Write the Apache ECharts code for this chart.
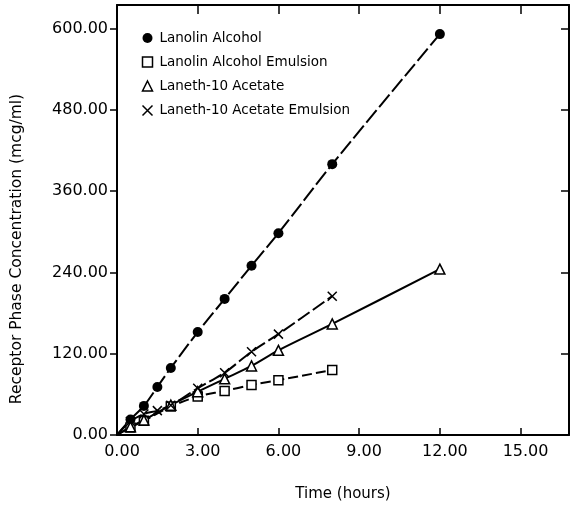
<!DOCTYPE html>
<html>
<head>
<meta charset="utf-8">
<script src="https://cdn.jsdelivr.net/npm/echarts@6/dist/echarts.min.js"></script>
<style>
html,body{margin:0;padding:0;background:#fff;}
#main{width:571px;height:508px;}
</style>
</head>
<body>
<div id="main"></div>
<script>
// Data (time in hours, concentration in mcg/ml)
const seriesNames = ["Lanolin Alcohol", "Lanolin Alcohol Emulsion", "Laneth-10 Acetate", "Laneth-10 Acetate Emulsion"];
const lanolinAlcoholTime = [0, 0.5, 1, 1.5, 2, 3, 4, 5, 6, 8, 12];
const lanolinAlcohol     = [0, 23, 43, 71, 99, 152, 201, 250, 298, 400, 592];
const lanolinEmulsionTime = [0, 0.5, 1, 2, 3, 4, 5, 6, 8];
const lanolinEmulsion     = [0, 11, 21, 42, 57, 65, 74, 81, 96];
const lanethAcetateTime = [0, 0.5, 1, 2, 3, 4, 5, 6, 8, 12];
const lanethAcetate     = [0, 12, 22, 44, 64, 83, 102, 125, 164, 245];
const lanethEmulsionTime = [0, 0.5, 1, 1.5, 2, 3, 4, 5, 6, 8];
const lanethEmulsion     = [0, 20, 31, 36, 44, 69, 92, 123, 149, 205];
const xTicks = [0, 3, 6, 9, 12, 15];
const yTicks = [0, 120, 240, 360, 480, 600];

const xSymbol = 'path://M0,0L10,10M10,0L0,10';

function pts(ts, vs) {
  return ts.map((t, i) => i === 0 && t === 0 && vs[i] === 0
    ? { value: [t, vs[i]], symbol: 'none' }
    : [t, vs[i]]);
}

const FONT = 'DejaVu Sans';
const chart = echarts.init(document.getElementById('main'), null, { renderer: 'canvas' });

const xMax = 16.8, yMax = 635;
const axisLineStyle = { color: '#000', width: 2 };

const option = {
  backgroundColor: '#fff',
  animation: false,
  grid: { left: 117, right: 2, top: 5, bottom: 73, containLabel: false },
  xAxis: [
    {
      type: 'value', min: 0, max: xMax, interval: 3, position: 'bottom',
      name: 'Time (hours)', nameLocation: 'middle', nameGap: 52,
      nameTextStyle: { fontFamily: FONT, fontSize: 15, color: '#000' },
      axisLine: { onZero: false, lineStyle: axisLineStyle },
      axisTick: { inside: true, length: 7, lineStyle: { color: '#000', width: 1.5 } },
      axisLabel: { fontFamily: FONT, fontSize: 16, color: '#000', margin: 9, padding: [0, 0, 0, 10],
        showMaxLabel: false, formatter: v => xTicks.includes(v) ? v.toFixed(2) : '' },
      splitLine: { show: false }
    },
    {
      type: 'value', min: 0, max: xMax, interval: 3, position: 'top',
      axisLine: { onZero: false, lineStyle: axisLineStyle },
      axisTick: { inside: true, length: 9, lineStyle: { color: '#000', width: 1.5 } },
      axisLabel: { show: false },
      splitLine: { show: false }
    }
  ],
  yAxis: [
    {
      type: 'value', min: 0, max: yMax, interval: 120, position: 'left',
      axisLine: { show: true, onZero: false, lineStyle: axisLineStyle },
      axisTick: { show: true, inside: false, length: 7, lineStyle: { color: '#000', width: 1.5 } },
      axisLabel: { fontFamily: FONT, fontSize: 16, color: '#000', margin: 9,
        showMaxLabel: false, formatter: v => yTicks.includes(v) ? v.toFixed(2) : '' },
      splitLine: { show: false }
    },
    {
      type: 'value', min: 0, max: yMax, interval: 120, position: 'right',
      axisLine: { show: true, onZero: false, lineStyle: axisLineStyle },
      axisTick: { show: true, inside: true, length: 8, lineStyle: { color: '#000', width: 1.5 } },
      axisLabel: { show: false },
      splitLine: { show: false }
    }
  ],
  legend: {
    orient: 'vertical', left: 140, top: 31, padding: 0, itemWidth: 10, itemHeight: 10, itemGap: 10,
    textStyle: { fontFamily: FONT, fontSize: 13.5, color: '#000', lineHeight: 14, padding: [0, 0, 0, 2] },
    data: [
      { name: seriesNames[0], icon: 'circle', itemStyle: { color: '#000', borderWidth: 0 } },
      { name: seriesNames[1], icon: 'rect', itemStyle: { color: '#fff', borderColor: '#000', borderWidth: 1.5 } },
      { name: seriesNames[2], icon: 'triangle', itemStyle: { color: '#fff', borderColor: '#000', borderWidth: 1.5 } },
      { name: seriesNames[3], icon: xSymbol, itemStyle: { color: 'none', borderColor: '#000', borderWidth: 1.5 } }
    ]
  },
  series: [
    {
      name: seriesNames[0], type: 'line', smooth: 0.3, data: pts(lanolinAlcoholTime, lanolinAlcohol),
      symbol: 'circle', symbolSize: 10,
      itemStyle: { color: '#000' },
      lineStyle: { color: '#000', width: 2, type: [16, 4] }
    },
    {
      name: seriesNames[1], type: 'line', smooth: 0.3, data: pts(lanolinEmulsionTime, lanolinEmulsion),
      symbol: 'rect', symbolSize: 9,
      itemStyle: { color: '#fff', borderColor: '#000', borderWidth: 1.5 },
      lineStyle: { color: '#000', width: 2, type: [10, 4] }
    },
    {
      name: seriesNames[2], type: 'line', smooth: 0.3, data: pts(lanethAcetateTime, lanethAcetate),
      symbol: 'triangle', symbolSize: 10,
      itemStyle: { color: '#fff', borderColor: '#000', borderWidth: 1.5 },
      lineStyle: { color: '#000', width: 2, type: 'solid' }
    },
    {
      name: seriesNames[3], type: 'line', smooth: 0.3, data: pts(lanethEmulsionTime, lanethEmulsion),
      symbol: xSymbol, symbolSize: 9,
      itemStyle: { color: 'none', borderColor: '#000', borderWidth: 1.5 },
      lineStyle: { color: '#000', width: 2, type: [14, 4] }
    }
  ],
  graphic: [
    {
      type: 'text',
      rotation: Math.PI / 2,
      x: 17, y: 249,
      style: { text: 'Receptor Phase Concentration (mcg/ml)', font: '15.5px "DejaVu Sans"', fill: '#000',
        textAlign: 'center', textVerticalAlign: 'middle' }
    }
  ]
};
chart.setOption(option);
</script>
</body>
</html>
